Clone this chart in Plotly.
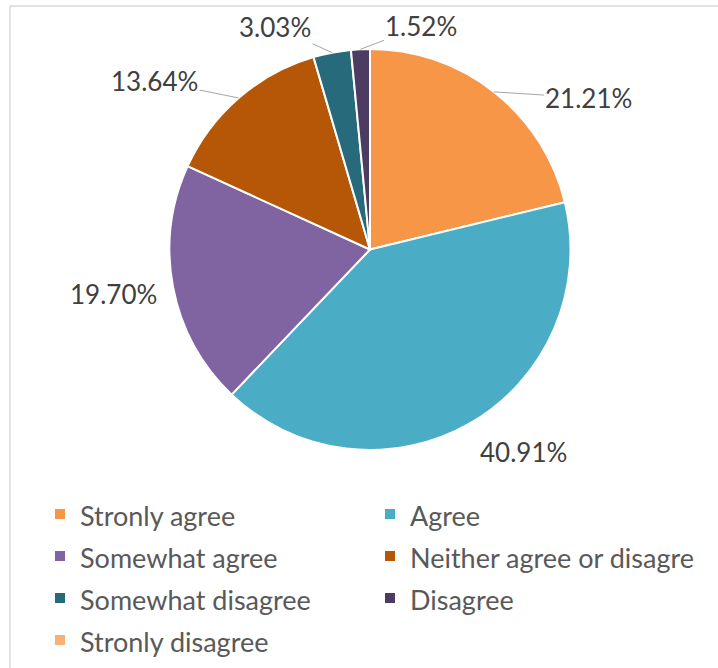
import math
import plotly.graph_objects as go

# ---- data ----
categories = ["Stronly agree", "Agree", "Somewhat agree", "Neither agree or disagre",
              "Somewhat disagree", "Disagree", "Stronly disagree"]
counts = [14, 27, 13, 9, 2, 1, 0]

# ---- style ----
colors = ["#F79646", "#4BACC6", "#8064A2", "#B65708", "#276A7C", "#4D3B62", "#F9B074"]
show_leader = [True, False, False, True, True, True, False]
label_offsets = [(95, 6), (53, 29), (-60, 7), (-84, -17), (-57, -26), (61, -23), (0, 0)]
FONT = "Lato"
W, H = 718, 668
CX, CY, R = 370, 249.5, 200.5

dom_x = [(CX - R) / W, (CX + R) / W]
dom_y = [(H - (CY + R)) / H, (H - (CY - R)) / H]

legend_labels = ['<span style="font-size:27px">%s</span>' % c for c in categories]

fig = go.Figure(go.Pie(
    labels=legend_labels,
    values=counts,
    sort=False,
    direction="clockwise",
    rotation=0,
    marker=dict(colors=colors, line=dict(color="white", width=2)),
    textinfo="none",
    hoverinfo="skip",
    domain=dict(x=dom_x, y=dom_y),
))

total = sum(counts)
cum = 0
annotations = []
for i, v in enumerate(counts):
    if v == 0:
        cum += v
        continue
    mid = (cum + v / 2) / total * 2 * math.pi
    cum += v
    ex = CX + R * math.sin(mid)
    ey = CY - R * math.cos(mid)
    dx, dy = label_offsets[i]
    annotations.append(dict(
        x=ex / W, y=1 - ey / H, xref="paper", yref="paper",
        text="%.2f%%" % (v / total * 100),
        showarrow=True, ax=dx, ay=dy, arrowhead=0, arrowwidth=1, standoff=0,
        arrowcolor="#A6A6A6" if show_leader[i] else "rgba(0,0,0,0)",
        font=dict(family=FONT, size=26, color="#404040"),
    ))

shapes = [
    dict(type="line", xref="paper", yref="paper", x0=10 / W, x1=1, y0=1 - 6 / H, y1=1 - 6 / H,
         line=dict(color="#D9D9D9", width=1.5)),
    dict(type="line", xref="paper", yref="paper", x0=10 / W, x1=10 / W, y0=0, y1=1 - 6 / H,
         line=dict(color="#D9D9D9", width=1.5)),
]

fig.update_layout(
    width=W, height=H,
    margin=dict(l=0, r=0, t=0, b=0, autoexpand=False),
    paper_bgcolor="white", plot_bgcolor="white",
    showlegend=True,
    legend=dict(
        orientation="h", x=40 / W, y=1 - 488 / H, xanchor="left", yanchor="top",
        entrywidth=285, entrywidthmode="pixels",
        font=dict(family=FONT, size=30, color="#595959"),
        bgcolor="rgba(0,0,0,0)", traceorder="normal",
    ),
    annotations=annotations,
    shapes=shapes,
)

fig.write_html("out.html",
               config={"displayModeBar": False},
               post_script="document.body.style.margin='0';document.body.style.overflow='hidden';")
